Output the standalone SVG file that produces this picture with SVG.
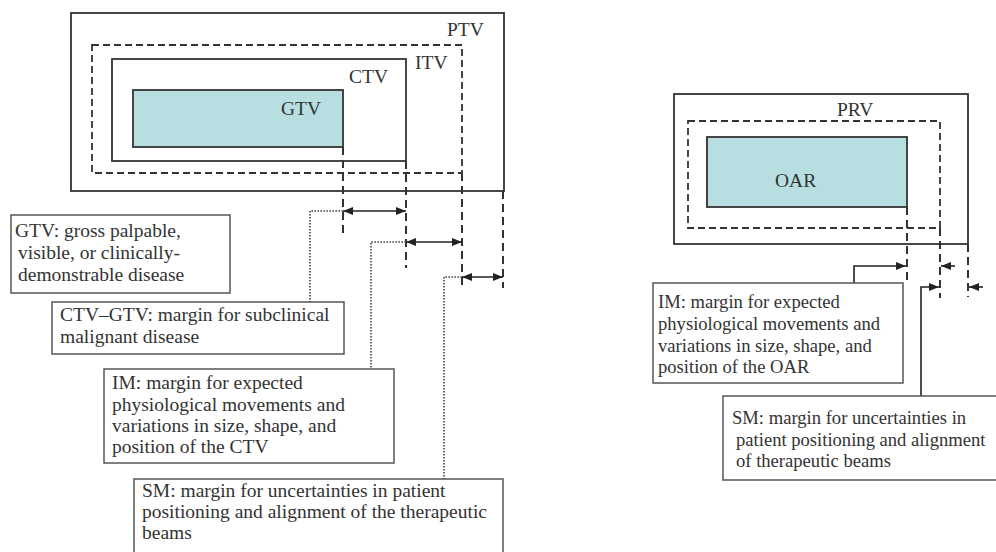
<svg xmlns="http://www.w3.org/2000/svg" width="996" height="552" viewBox="0 0 996 552">
<defs>
<style>
text{font-family:"Liberation Serif","Times New Roman",serif;font-size:19.5px;fill:#333}
.sm{font-size:18.6px}
.solid{fill:none;stroke:#333;stroke-width:1.8}
.dash{fill:none;stroke:#333;stroke-width:1.8;stroke-dasharray:7 4}
.ext{fill:none;stroke:#333;stroke-width:2;stroke-dasharray:8 5}
.core{fill:#b7dfe2;stroke:#333;stroke-width:1.8}
.box{fill:#fff;stroke:#555;stroke-width:1.5}
.dot{fill:none;stroke:#444;stroke-width:1.6;stroke-dasharray:1.6 1.4}
.arr{fill:none;stroke:#222;stroke-width:1.6}
</style>
<marker id="ah" viewBox="0 0 10 8" refX="10" refY="4" markerWidth="10" markerHeight="8" markerUnits="userSpaceOnUse" orient="auto-start-reverse">
<path d="M0,0 L10,4 L0,8 Z" fill="#222"/>
</marker>
</defs>

<g id="ptv"><rect class="solid" x="71" y="13" width="433" height="178"/><text x="447" y="36">PTV</text></g>
<g id="itv"><rect class="dash" x="92" y="45" width="370" height="128"/><text x="415" y="69">ITV</text></g>
<g id="ctv"><rect class="solid" x="112" y="59" width="294" height="102"/><text x="349" y="83">CTV</text></g>
<g id="gtv"><rect class="core" x="133" y="90" width="210" height="57"/><text x="281" y="115">GTV</text></g>

<g id="prv"><rect class="solid" x="674" y="94" width="294" height="150"/><text x="837" y="116">PRV</text></g>
<g id="prv-margin"><rect class="dash" x="688" y="121" width="252" height="107"/></g>
<g id="oar"><rect class="core" x="707" y="137" width="200" height="70"/><text x="775" y="187">OAR</text></g>

<g id="connectors">
<path class="ext" d="M343,147 V235 M406,161 V268 M462,173 V290 M503,191 V288"/>
<path class="ext" d="M907,207 V281 M940,228 V298 M968,244 V297"/>
<line class="arr" x1="343" y1="211" x2="406" y2="211" marker-start="url(#ah)" marker-end="url(#ah)"/>
<line class="arr" x1="406" y1="242" x2="462" y2="242" marker-start="url(#ah)" marker-end="url(#ah)"/>
<line class="arr" x1="462" y1="277" x2="503" y2="277" marker-start="url(#ah)" marker-end="url(#ah)"/>
<path class="dot" d="M343,211 H310 V302"/>
<path class="dot" d="M406,242 H371 V369"/>
<path class="dot" d="M462,277 H444 V479"/>
<path class="arr" d="M854,283 V266 H906" marker-end="url(#ah)"/>
<line class="arr" x1="955" y1="266" x2="941" y2="266" marker-end="url(#ah)"/>
<path class="arr" d="M921,396 V287 H939" marker-end="url(#ah)"/>
<line class="arr" x1="983" y1="287" x2="969" y2="287" marker-end="url(#ah)"/>
</g>

<g id="note-gtv"><rect class="box" x="11" y="215" width="219" height="78"/>
<text x="15" y="237">GTV: gross palpable,</text>
<text x="18" y="259">visible, or clinically-</text>
<text x="18" y="281">demonstrable disease</text></g>

<g id="note-ctv"><rect class="box" x="52" y="302" width="292" height="52"/>
<text x="60" y="321">CTV–GTV: margin for subclinical</text>
<text x="60" y="343">malignant disease</text></g>

<g id="note-im"><rect class="box" x="104" y="369" width="290" height="94"/>
<text x="112" y="389">IM: margin for expected</text>
<text x="112" y="411">physiological movements and</text>
<text x="112" y="432">variations in size, shape, and</text>
<text x="112" y="453">position of the CTV</text></g>

<g id="note-sm"><rect class="box" x="134" y="479" width="369" height="90"/>
<text x="142" y="497">SM: margin for uncertainties in patient</text>
<text x="142" y="518">positioning and alignment of the therapeutic</text>
<text x="142" y="539">beams</text></g>

<g id="note-im-oar"><rect class="box" x="653" y="283" width="250" height="100"/>
<text class="sm" x="658" y="308">IM: margin for expected</text>
<text class="sm" x="658" y="330">physiological movements and</text>
<text class="sm" x="658" y="352">variations in size, shape, and</text>
<text class="sm" x="658" y="373">position of the OAR</text></g>

<g id="note-sm-oar"><rect class="box" x="723" y="396" width="280" height="84"/>
<text class="sm" x="732" y="424">SM: margin for uncertainties in</text>
<text class="sm" x="736" y="446">patient positioning and alignment</text>
<text class="sm" x="736" y="467">of therapeutic beams</text></g>
</svg>
